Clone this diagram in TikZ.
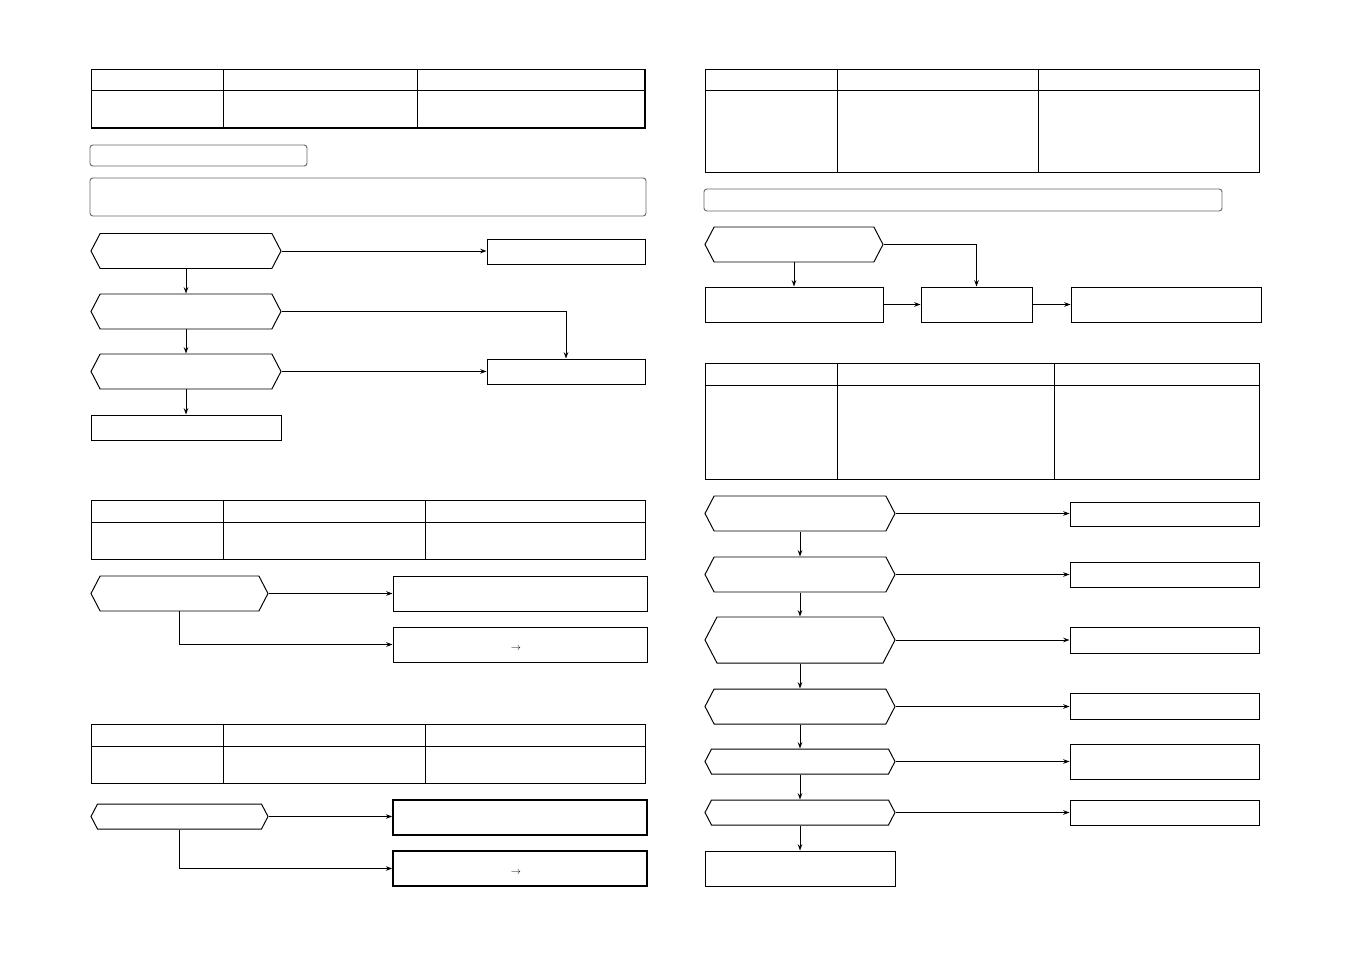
\documentclass[tikz,border=0pt]{standalone}
\usetikzlibrary{arrows.meta,shapes.symbols}

\tikzset{
  hexbox/.style={signal, signal to=west and east, signal pointer angle=125,
    draw, line width=1.4pt, inner sep=0pt},
  plainbox/.style={rectangle, draw, line width=1.4pt, inner sep=0pt},
  flow/.style={line width=1.3pt, -{Stealth[length=9pt,width=6.5pt]}},
  frame/.style={line width=1.4pt},
  softbox/.style={draw=black!60, line width=1.3pt, rounded corners=4pt}
}

\begin{document}
\begin{tikzpicture}[x=0.5mm, y=-0.5mm]
\useasboundingbox[fill=white] (0,0) rectangle (1351,954);

% tables
\draw[frame] (91,69) rectangle (645,128);
\draw[frame] (91,90) -- (645,90);
\foreach \x in {223,417} \draw[frame] (\x,69) -- (\x,128);
\draw[line width=3.2pt] (91,128) -- (645,128);
\draw[line width=2.4pt] (645,69) -- (645,128);

\draw[frame] (91,500) rectangle (645,559);
\draw[frame] (91,522) -- (645,522);
\foreach \x in {223,425} \draw[frame] (\x,500) -- (\x,559);

\draw[frame] (91,724) rectangle (645,783);
\draw[frame] (91,746) -- (645,746);
\foreach \x in {223,425} \draw[frame] (\x,724) -- (\x,783);

\draw[frame] (705,69) rectangle (1259,172);
\draw[frame] (705,90) -- (1259,90);
\foreach \x in {837,1038} \draw[frame] (\x,69) -- (\x,172);

\draw[frame] (705,363) rectangle (1259,479);
\draw[frame] (705,385) -- (1259,385);
\foreach \x in {837,1054} \draw[frame] (\x,363) -- (\x,479);

% rounded title boxes
\draw[softbox] (90,145) rectangle (307,166);
\draw[softbox] (90,178) rectangle (646,216);
\draw[softbox] (704,189) rectangle (1222,211);

% left flow
\node[hexbox, minimum width=95mm, minimum height=17.5mm] (h1) at (186,251) {};
\node[hexbox, minimum width=95mm, minimum height=17.5mm] (h2) at (186,311.5) {};
\node[hexbox, minimum width=95mm, minimum height=17.5mm] (h3) at (186,371.5) {};
\node[plainbox, minimum width=95mm, minimum height=12.5mm] (done) at (186,427.5) {};
\node[plainbox, minimum width=79mm, minimum height=12.5mm] (r1) at (566,251.5) {};
\node[plainbox, minimum width=79mm, minimum height=12.5mm] (r2) at (566,371.5) {};
\draw[line width=2.6pt] (r1.north east) -- (r1.south east) -- (r1.south west);
\draw[line width=2.6pt] (r2.north east) -- (r2.south east) -- (r2.south west);

\draw[flow] (h1) -- (h2);
\draw[flow] (h2) -- (h3);
\draw[flow] (h3) -- (done);
\draw[flow] (h1.east) -- (h1.east -| r1.west);
\draw[flow] (h2.east) -| (r2.north);
\draw[flow] (h3.east) -- (h3.east -| r2.west);

% second section
\node[hexbox, minimum width=88.5mm, minimum height=17.5mm] (g1) at (179.5,593.5) {};
\node[plainbox, minimum width=127mm, minimum height=17.5mm] (s1) at (520,593.5) {};
\node[plainbox, minimum width=127mm, minimum height=17.5mm] (s2) at (520,644.5) {};
\node[font=\Large, inner sep=0pt] (sarrow) at (516,649) {$\rightarrow$};
\draw[flow] (g1.east) -- (g1.east -| s1.west);
\draw[flow] (g1.south) |- (s2.west);

% third section
\node[hexbox, minimum width=88.5mm, minimum height=12.5mm] (k1) at (179.5,816.5) {};
\node[plainbox, line width=2.4pt, minimum width=127mm, minimum height=17.5mm] (t1) at (520,817.5) {};
\node[plainbox, line width=2.4pt, minimum width=127mm, minimum height=17.5mm] (t2) at (520,868.5) {};
\node[font=\Large, inner sep=0pt] (tarrow) at (516,873) {$\rightarrow$};
\draw[flow] (k1.east) -- (k1.east -| t1.west);
\draw[flow] (k1.south) |- (t2.west);

% right top flow
\node[hexbox, minimum width=89mm, minimum height=17.5mm] (m1) at (794,244.5) {};
\node[plainbox, minimum width=89mm, minimum height=17.5mm] (ma) at (794,304.5) {};
\node[plainbox, minimum width=55.5mm, minimum height=17.5mm] (mb) at (976.5,304.5) {};
\node[plainbox, minimum width=95mm, minimum height=17.5mm] (mc) at (1166,304.5) {};
\draw[line width=2.6pt] (ma.north east) -- (ma.south east);
\draw[flow] (m1) -- (ma);
\draw[flow] (m1.east) -| (mb.north);
\draw[flow] (ma) -- (mb);
\draw[flow] (mb) -- (mc);

% right bottom flow
\node[hexbox, minimum width=95mm, minimum height=17.5mm] (q1) at (800,513.5) {};
\node[hexbox, minimum width=95mm, minimum height=17.5mm] (q2) at (800,574.5) {};
\node[hexbox, minimum width=95mm, minimum height=23mm] (q3) at (800,640) {};
\node[hexbox, minimum width=95mm, minimum height=17.5mm] (q4) at (800,706.5) {};
\node[hexbox, minimum width=95mm, minimum height=12.5mm] (q5) at (800,761.5) {};
\node[hexbox, minimum width=95mm, minimum height=12.5mm] (q6) at (800,812.5) {};
\node[plainbox, minimum width=95mm, minimum height=17.5mm] (qend) at (800,868.5) {};

\node[plainbox, minimum width=94.5mm, minimum height=12mm] (p1) at (1164.5,514) {};
\node[plainbox, minimum width=94.5mm, minimum height=12.5mm] (p2) at (1164.5,574.5) {};
\node[plainbox, minimum width=94.5mm, minimum height=13mm] (p3) at (1164.5,640) {};
\node[plainbox, minimum width=94.5mm, minimum height=13mm] (p4) at (1164.5,706) {};
\node[plainbox, minimum width=94.5mm, minimum height=17.5mm] (p5) at (1164.5,761.5) {};
\node[plainbox, minimum width=94.5mm, minimum height=12.5mm] (p6) at (1164.5,812.5) {};

\foreach \n in {1,...,6} {
  \draw[line width=2.6pt] (p\n.north east) -- (p\n.south east);
  \draw[flow] (q\n.east) -- (q\n.east -| p\n.west);
}
\draw[flow] (q1) -- (q2);
\draw[flow] (q2) -- (q3);
\draw[flow] (q3) -- (q4);
\draw[flow] (q4) -- (q5);
\draw[flow] (q5) -- (q6);
\draw[flow] (q6) -- (qend);
\end{tikzpicture}
\end{document}
